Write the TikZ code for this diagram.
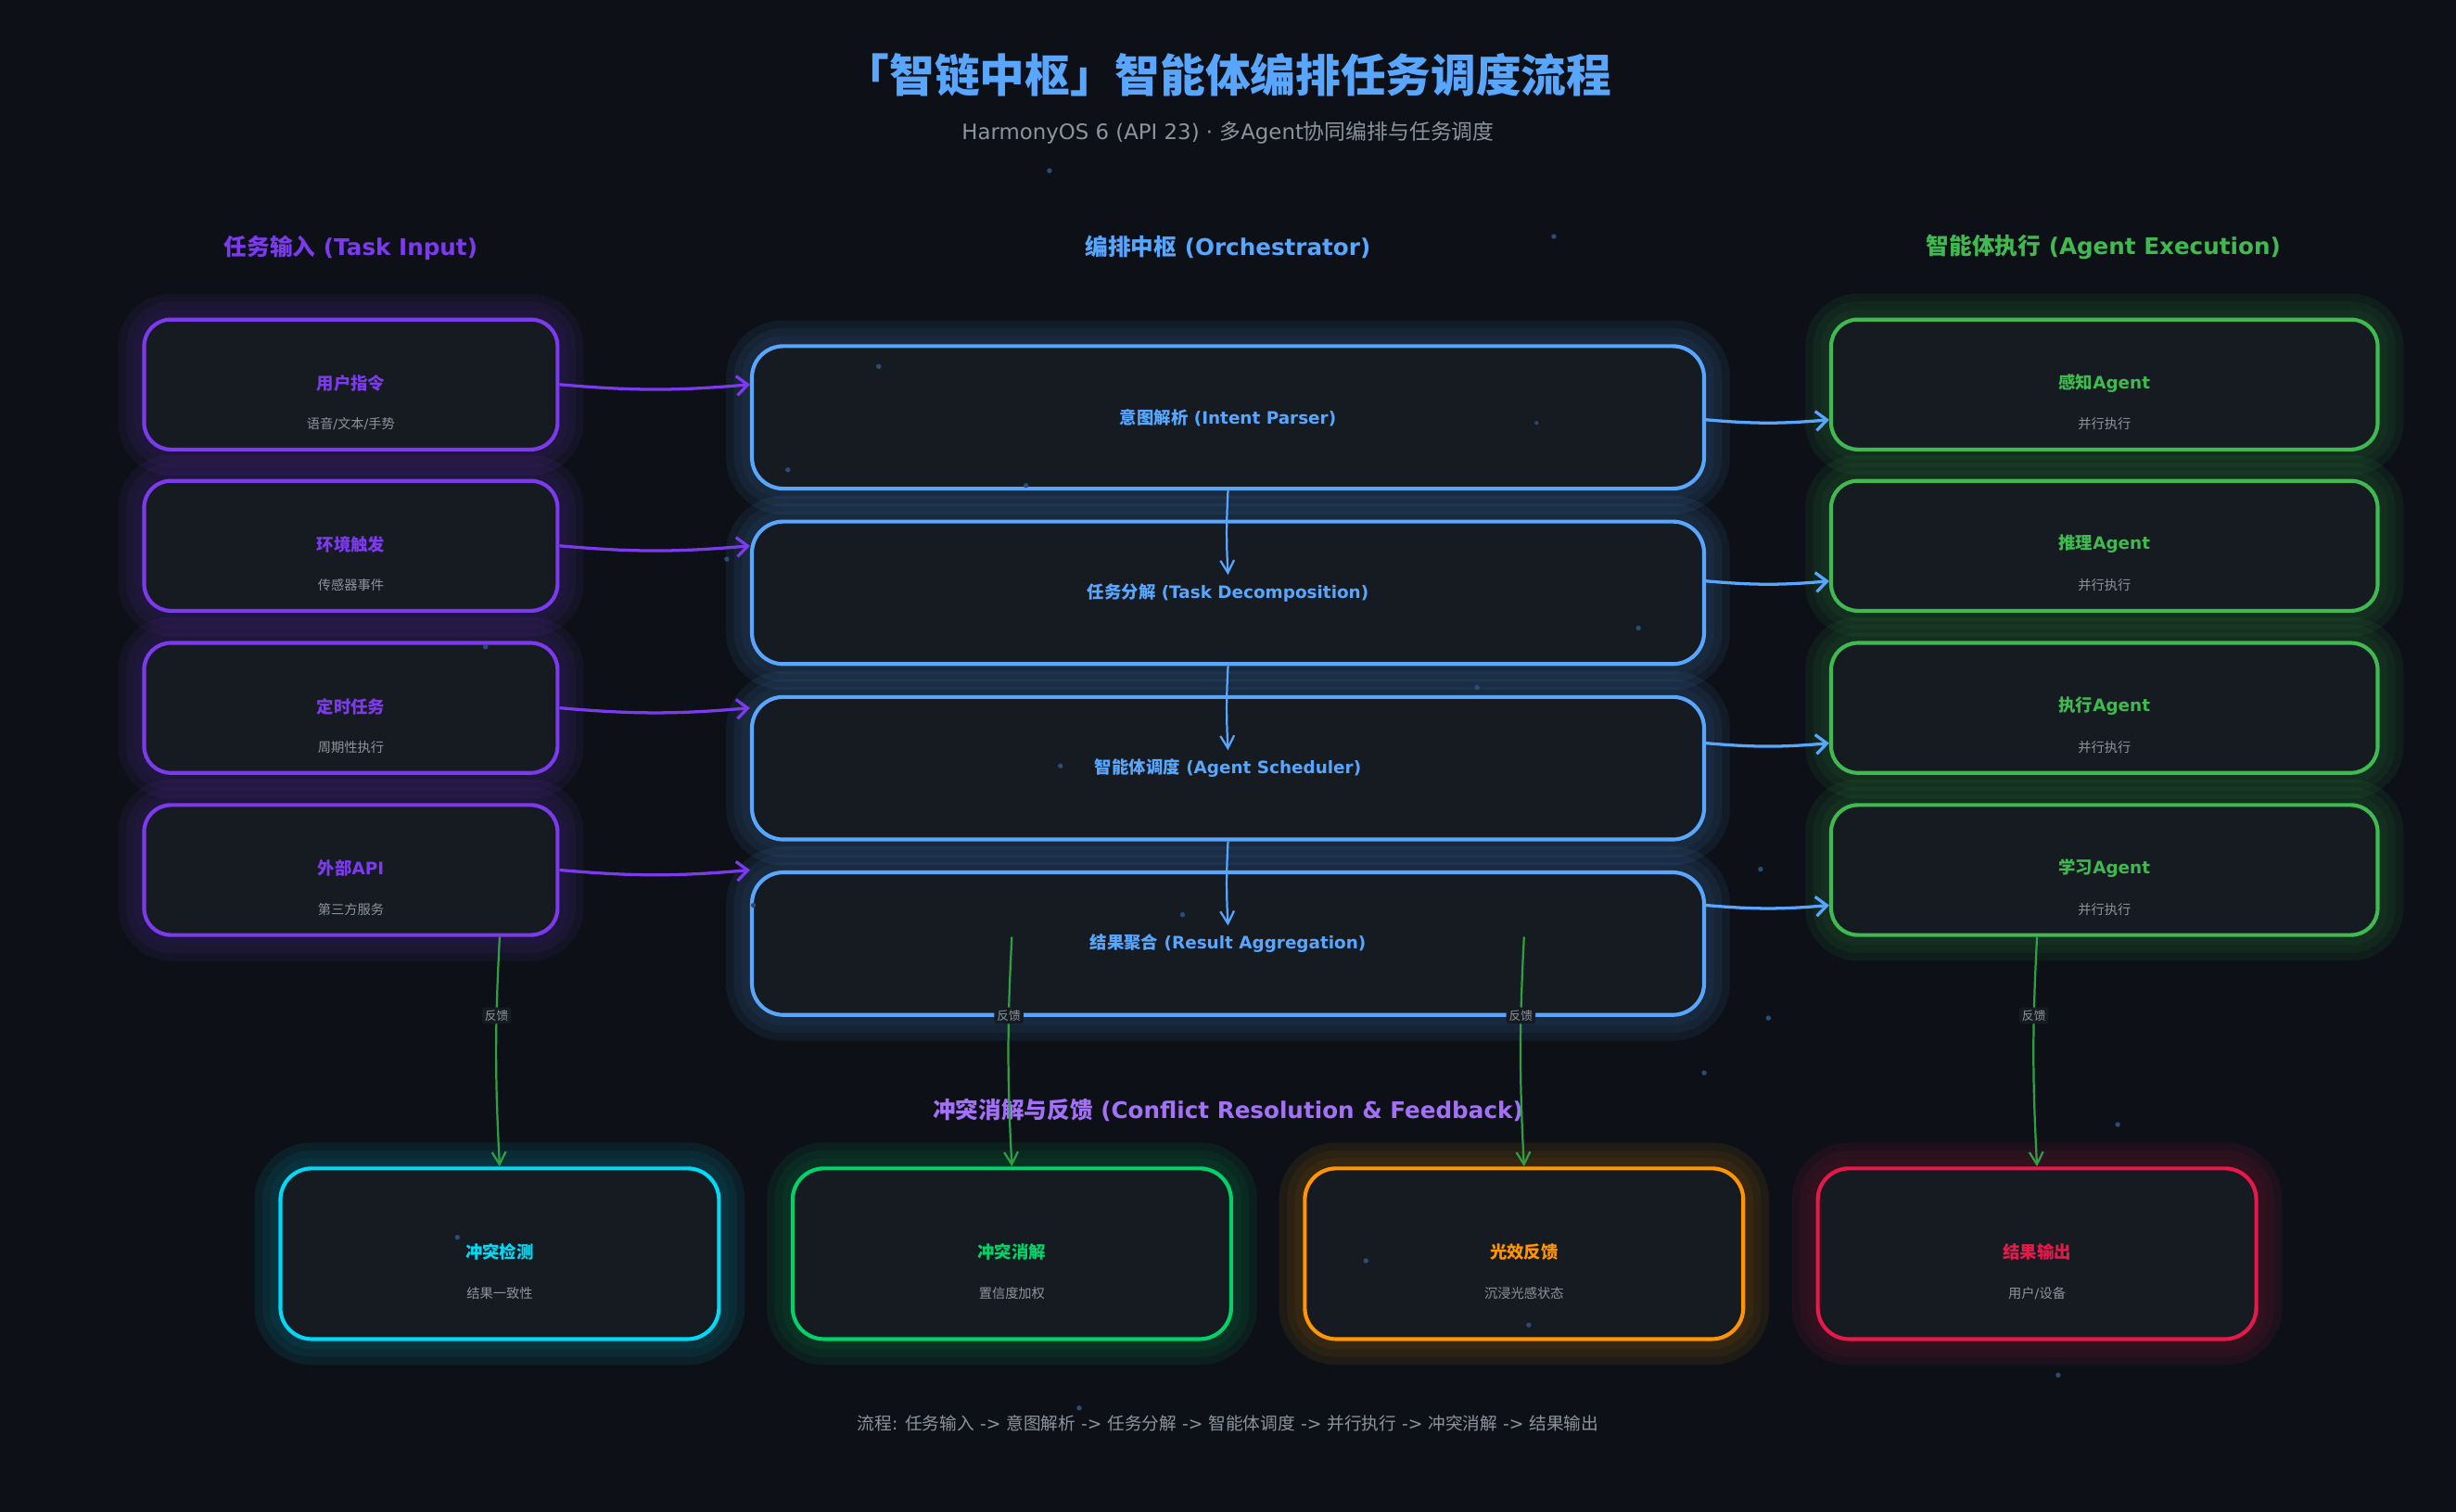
\documentclass[tikz,border=0pt]{standalone}
\usepackage{fontspec}
\setmainfont{DejaVu Sans}
\newfontfamily\cjk{Noto Sans CJK SC}
\usepackage{tikz}
\usetikzlibrary{arrows.meta,calc}
\definecolor{bgdark}{HTML}{0D1117}
\definecolor{cardgray}{HTML}{161B22}
\definecolor{softgray}{HTML}{8B949E}
\definecolor{taskpurple}{HTML}{7C3AED}
\definecolor{lightpurple}{HTML}{A371F7}
\definecolor{hubblue}{HTML}{58A6FF}
\definecolor{agentgreen}{HTML}{3FB950}
\definecolor{feedgreen}{HTML}{2EA043}
\definecolor{detectcyan}{HTML}{00D9F5}
\definecolor{resolvegreen}{HTML}{00D26A}
\definecolor{lightorange}{HTML}{FF9500}
\definecolor{outred}{HTML}{E8184A}
\definecolor{stardot}{HTML}{2B4C75}
\newcommand{\zh}[1]{{\cjk #1}}
\tikzset{glow/.style={preaction={draw=#1, line width=0.66cm, opacity=.08},
		preaction={draw=#1, line width=0.46cm, opacity=.06},
		preaction={draw=#1, line width=0.26cm, opacity=.05}},
	card/.style={rounded corners=0.34cm, fill=cardgray, line width=1.4pt, inner sep=0pt},
	inbox/.style={card, draw=taskpurple, glow=taskpurple, minimum width=5.28cm, minimum height=1.66cm},
	hubbox/.style={card, draw=hubblue, glow=hubblue, minimum width=12.16cm, minimum height=1.82cm, rounded corners=0.4cm},
	agentbox/.style={card, draw=agentgreen, glow=agentgreen, minimum width=6.98cm, minimum height=1.66cm},
	outbox/.style={card, draw=#1, glow=#1, minimum width=5.6cm, minimum height=2.18cm, rounded corners=0.4cm},
	colhead/.style={font=\fontsize{8.3}{10}\selectfont\bfseries, text=#1, inner sep=0pt},
	boxtitle/.style={font=\fontsize{6.2}{7.5}\selectfont\bfseries, text=#1, inner sep=0pt},
	boxsub/.style={font=\fontsize{4.8}{6}\selectfont, text=softgray, inner sep=0pt},
	feedlabel/.style={font=\fontsize{4.3}{5}\selectfont, text=softgray, fill=cardgray, rounded corners=1pt, inner sep=1pt},
	inarrow/.style={draw=taskpurple, line width=1.1pt, -{Straight Barb[length=4pt,width=7pt]}},
	hubarrow/.style={draw=hubblue, line width=0.75pt, -{Straight Barb[length=4.5pt,width=5pt]}},
	outarrow/.style={draw=hubblue, line width=1.1pt, -{Straight Barb[length=4pt,width=7pt]}},
	feedarrow/.style={draw=feedgreen, line width=0.75pt, -{Straight Barb[length=4.5pt,width=5pt]}}
}

\begin{document}
\begin{tikzpicture}[x=0.02cm, y=-0.02cm]
	\useasboundingbox (0,0) rectangle (1568,965);
	\fill[bgdark] (-5,-5) rectangle (1573,970);
	
	% title and column heads
	\node[font=\fontsize{16.4}{19}\selectfont\bfseries, text=hubblue] (title) at (784,48) {\zh{「智链中枢」智能体编排任务调度流程}};
	\node[font=\fontsize{7.7}{9}\selectfont, text=softgray] (subtitle) at (784,85) {HarmonyOS 6 (API 23) · \zh{多}Agent\zh{协同编排与任务调度}};
	\node[colhead=taskpurple] (inhead) at (224,158) {\zh{任务输入} (Task Input)};
	\node[colhead=hubblue] (hubhead) at (784,158) {\zh{编排中枢} (Orchestrator)};
	\node[colhead=agentgreen] (aghead) at (1343,158) {\zh{智能体执行} (Agent Execution)};
	\node[colhead=lightpurple] (fbhead) at (784,709) {\zh{冲突消解与反馈} (Conflict Resolution \& Feedback)};
	
	% task input
	\node[inbox] (in1) at (224,245.5) {};
	\node[inbox] (in2) at (224,348.5) {};
	\node[inbox] (in3) at (224,452) {};
	\node[inbox] (in4) at (224,555.5) {};
	
	% orchestrator
	\node[hubbox] (mid1) at (784,266.5) {};
	\node[hubbox] (mid2) at (784,378.5) {};
	\node[hubbox] (mid3) at (784,490.5) {};
	\node[hubbox] (mid4) at (784,602.5) {};
	
	% agents
	\node[agentbox] (ag1) at (1343.5,245.5) {};
	\node[agentbox] (ag2) at (1343.5,348.5) {};
	\node[agentbox] (ag3) at (1343.5,452) {};
	\node[agentbox] (ag4) at (1343.5,555.5) {};
	
	% conflict resolution
	\node[outbox=detectcyan] (out1) at (319,800.5) {};
	\node[outbox=resolvegreen] (out2) at (646,800.5) {};
	\node[outbox=lightorange] (out3) at (973,800.5) {};
	\node[outbox=outred] (out4) at (1300.5,800.5) {};
	
	% box texts
	\node[boxtitle=taskpurple] (in1t) at ($(in1)+(0,-1)$) {\zh{用户指令}};
	\node[boxsub] (in1s) at ($(in1)+(0,25)$) {\zh{语音}/\zh{文本}/\zh{手势}};
	\node[boxtitle=taskpurple] (in2t) at ($(in2)+(0,-1)$) {\zh{环境触发}};
	\node[boxsub] (in2s) at ($(in2)+(0,25)$) {\zh{传感器事件}};
	\node[boxtitle=taskpurple] (in3t) at ($(in3)+(0,-1)$) {\zh{定时任务}};
	\node[boxsub] (in3s) at ($(in3)+(0,25)$) {\zh{周期性执行}};
	\node[boxtitle=taskpurple] (in4t) at ($(in4)+(0,-1)$) {\zh{外部}API};
	\node[boxsub] (in4s) at ($(in4)+(0,25)$) {\zh{第三方服务}};
	
	\node[boxtitle=hubblue] (mid1t) at (mid1) {\zh{意图解析} (Intent Parser)};
	\node[boxtitle=hubblue] (mid2t) at (mid2) {\zh{任务分解} (Task Decomposition)};
	\node[boxtitle=hubblue] (mid3t) at (mid3) {\zh{智能体调度} (Agent Scheduler)};
	\node[boxtitle=hubblue] (mid4t) at (mid4) {\zh{结果聚合} (Result Aggregation)};
	
	\node[boxtitle=agentgreen] (ag1t) at ($(ag1)+(0,-1)$) {\zh{感知}Agent};
	\node[boxsub] (ag1s) at ($(ag1)+(0,25)$) {\zh{并行执行}};
	\node[boxtitle=agentgreen] (ag2t) at ($(ag2)+(0,-1)$) {\zh{推理}Agent};
	\node[boxsub] (ag2s) at ($(ag2)+(0,25)$) {\zh{并行执行}};
	\node[boxtitle=agentgreen] (ag3t) at ($(ag3)+(0,-1)$) {\zh{执行}Agent};
	\node[boxsub] (ag3s) at ($(ag3)+(0,25)$) {\zh{并行执行}};
	\node[boxtitle=agentgreen] (ag4t) at ($(ag4)+(0,-1)$) {\zh{学习}Agent};
	\node[boxsub] (ag4s) at ($(ag4)+(0,25)$) {\zh{并行执行}};
	
	\node[boxtitle=detectcyan] (out1t) at ($(out1)+(0,-1)$) {\zh{冲突检测}};
	\node[boxsub] (out1s) at ($(out1)+(0,25.5)$) {\zh{结果一致性}};
	\node[boxtitle=resolvegreen] (out2t) at ($(out2)+(0,-1)$) {\zh{冲突消解}};
	\node[boxsub] (out2s) at ($(out2)+(0,25.5)$) {\zh{置信度加权}};
	\node[boxtitle=lightorange] (out3t) at ($(out3)+(0,-1)$) {\zh{光效反馈}};
	\node[boxsub] (out3s) at ($(out3)+(0,25.5)$) {\zh{沉浸光感状态}};
	\node[boxtitle=outred] (out4t) at ($(out4)+(0,-1)$) {\zh{结果输出}};
	\node[boxsub] (out4s) at ($(out4)+(0,25.5)$) {\zh{用户}/\zh{设备}};
	
	% input -> orchestrator
	\draw[inarrow] (in1.east) to[bend right=5] (in1.east -| mid1.west);
	\draw[inarrow] (in2.east) to[bend right=5] (in2.east -| mid2.west);
	\draw[inarrow] (in3.east) to[bend right=5] (in3.east -| mid3.west);
	\draw[inarrow] (in4.east) to[bend right=5] (in4.east -| mid4.west);
	
	% orchestrator chain
	\draw[hubarrow] (mid1.south) to[bend right=3] ($(mid2.center)+(0,-11.5)$);
	\draw[hubarrow] (mid2.south) to[bend right=3] ($(mid3.center)+(0,-11.5)$);
	\draw[hubarrow] (mid3.south) to[bend right=3] ($(mid4.center)+(0,-11.5)$);
	
	% orchestrator -> agents
	\coordinate (ag1in) at ($(ag1.west)+(0,22.5)$);
	\coordinate (ag2in) at ($(ag2.west)+(0,22.5)$);
	\coordinate (ag3in) at ($(ag3.west)+(0,22.5)$);
	\coordinate (ag4in) at ($(ag4.west)+(0,22.5)$);
	\draw[outarrow] (mid1.east |- ag1in) to[bend right=5] (ag1in);
	\draw[outarrow] (mid2.east |- ag2in) to[bend right=5] (ag2in);
	\draw[outarrow] (mid3.east |- ag3in) to[bend right=5] (ag3in);
	\draw[outarrow] (mid4.east |- ag4in) to[bend right=5] (ag4in);
	
	% feedback
	\draw[feedarrow] (out1.north |- in4.south) to[bend right=3] node[feedlabel, pos=.33] (fb1) {\zh{反馈}} (out1.north);
	\draw[feedarrow] (out2.north |- in4.south) to[bend right=3] node[feedlabel, pos=.33] (fb2) {\zh{反馈}} (out2.north);
	\draw[feedarrow] (out3.north |- in4.south) to[bend right=3] node[feedlabel, pos=.33] (fb3) {\zh{反馈}} (out3.north);
	\draw[feedarrow] (out4.north |- ag4.south) to[bend right=3] node[feedlabel, pos=.33] (fb4) {\zh{反馈}} (out4.north);
	
	% stars
	\fill[stardot] (670,109) circle (1.6) (992,151) circle (1.6) (561,234) circle (1.6) (503,300) circle (1.6)
	(655,310) circle (1.6) (981,270) circle (1.2) (464,357) circle (1.6) (310,413) circle (1.6)
	(1046,401) circle (1.6) (943,439) circle (1.6) (677,489) circle (1.6) (1124,555) circle (1.6)
	(755,584) circle (1.6) (481,578) circle (1.6) (1129,650) circle (1.6) (1088,685) circle (1.6)
	(1352,718) circle (1.6) (292,790) circle (1.6) (872,805) circle (1.6) (976,846) circle (1.6)
	(1314,878) circle (1.6) (689,899) circle (1.6);
	
	\node[font=\fontsize{6.3}{8}\selectfont, text=softgray] (flow) at (784,909) {\zh{流程}: \zh{任务输入} -> \zh{意图解析} -> \zh{任务分解} -> \zh{智能体调度} -> \zh{并行执行} -> \zh{冲突消解} -> \zh{结果输出}};
\end{tikzpicture}
\end{document}
